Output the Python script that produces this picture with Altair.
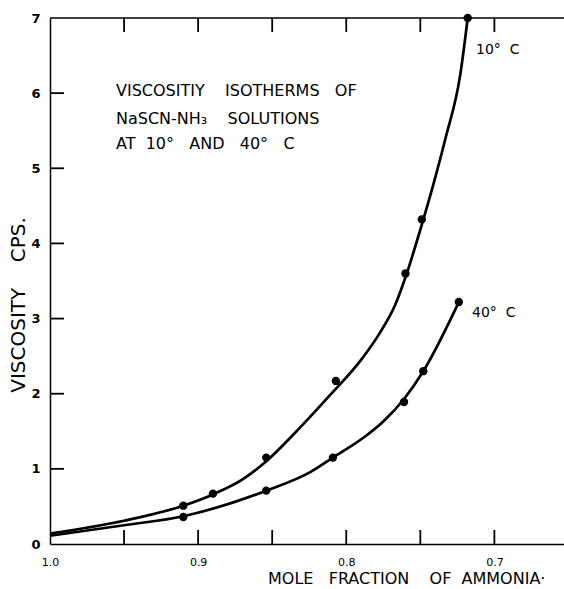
import altair as alt
import pandas as pd

# measured data points
x10_pts = [0.910, 0.890, 0.854, 0.807, 0.760, 0.749, 0.718]
y10_pts = [0.51, 0.67, 1.15, 2.17, 3.60, 4.32, 7.00]
x40_pts = [0.910, 0.854, 0.809, 0.761, 0.748, 0.724]
y40_pts = [0.36, 0.71, 1.15, 1.89, 2.30, 3.22]

# smooth curves as drawn in the figure
x10_curve = [1.00, 0.95, 0.91, 0.89, 0.87, 0.854, 0.836, 0.811, 0.790, 0.777, 0.767, 0.760, 0.749, 0.741, 0.733, 0.723, 0.718]
y10_curve = [0.14, 0.31, 0.51, 0.66, 0.86, 1.10, 1.45, 1.98, 2.45, 2.82, 3.18, 3.55, 4.25, 4.80, 5.40, 6.25, 7.00]
x40_curve = [1.00, 0.95, 0.91, 0.854, 0.824, 0.809, 0.788, 0.775, 0.761, 0.748, 0.724]
y40_curve = [0.11, 0.25, 0.37, 0.71, 0.96, 1.15, 1.42, 1.63, 1.93, 2.30, 3.22]

x_label_vals = [1.0, 0.9, 0.8, 0.7]
y_label_vals = [0, 1, 2, 3, 4, 5, 6, 7]
x_tick_vals = [0.95, 0.9, 0.85, 0.8, 0.75, 0.7]
y_tick_vals = [1, 2, 3, 4, 5, 6]
x_min, x_max = 1.0, 0.653
y_min, y_max = 0, 7

NB = "\u00a0"
note_lines = ["VISCOSITIY" + NB * 4 + "ISOTHERMS" + NB * 3 + "OF",
              "NaSCN-NH\u2083" + NB * 4 + "SOLUTIONS",
              "AT" + NB * 2 + "10\u00b0" + NB * 3 + "AND" + NB * 3 + "40\u00b0" + NB * 3 + "C"]
series_labels = ["10\u00b0" + NB * 2 + "C", "40\u00b0" + NB * 2 + "C"]
y_title = "VISCOSITY" + NB * 4 + "CPS."
x_title = "MOLE" + NB * 3 + "FRACTION" + NB * 4 + "OF" + NB * 2 + "AMMONIA\u00b7"

W, H = 514, 526
FONT = "DejaVu Sans"
TICK_PX = 14

xs = alt.Scale(domain=[x_min, x_max], nice=False, zero=False)
ys = alt.Scale(domain=[y_min, y_max], nice=False, zero=True)
xaxis = alt.Axis(values=x_label_vals, format=".1f", ticks=False, grid=False, title=None,
                 domainColor="black", domainWidth=1.5, labelFont=FONT, labelFontSize=11,
                 labelColor="black", labelPadding=12, labelFlush=False)
yaxis = alt.Axis(values=y_label_vals, format="d", ticks=False, grid=False, title=None,
                 domainColor="black", domainWidth=1.5, labelFont=FONT, labelFontSize=13,
                 labelFontWeight="bold", labelColor="black", labelPadding=10)

# inward tick length expressed in data units of each scale
dx = TICK_PX * (x_min - x_max) / W
dy = TICK_PX * (y_max - y_min) / H

seg_rows = []
for v in y_tick_vals:
    seg_rows.append({"x": x_min, "x2": x_min - dx, "y": v, "y2": v})
for v in x_tick_vals:
    seg_rows.append({"x": v, "x2": v, "y": y_min, "y2": y_min + dy})
    seg_rows.append({"x": v, "x2": v, "y": y_max, "y2": y_max - dy})
segs = pd.DataFrame(seg_rows)

curves = pd.DataFrame({
    "x": x10_curve + x40_curve,
    "y": y10_curve + y40_curve,
    "s": ["c10"] * len(x10_curve) + ["c40"] * len(x40_curve),
})
pts = pd.DataFrame({
    "x": x10_pts + x40_pts,
    "y": y10_pts + y40_pts,
})

ticks = alt.Chart(segs).mark_rule(color="black", strokeWidth=1.8, opacity=1).encode(
    x=alt.X("x:Q", scale=xs, axis=xaxis),
    x2="x2:Q",
    y=alt.Y("y:Q", scale=ys, axis=yaxis),
    y2="y2:Q",
)
line = alt.Chart(curves).mark_line(interpolate="monotone", color="black", strokeWidth=2.7).encode(
    x=alt.X("x:Q", scale=xs, axis=xaxis),
    y=alt.Y("y:Q", scale=ys, axis=yaxis),
    detail="s:N",
)
dots = alt.Chart(pts).mark_circle(size=70, color="black", opacity=1).encode(
    x=alt.X("x:Q", scale=xs, axis=xaxis), y=alt.Y("y:Q", scale=ys, axis=yaxis))

topline = alt.Chart(pd.DataFrame({"a": [0]})).mark_rule(color="black", strokeWidth=1.5).encode(
    x=alt.value(0), x2=alt.value(W), y=alt.value(0))

notes = alt.Chart(pd.DataFrame({"t": note_lines, "yy": [73, 101, 126]})).mark_text(
    font=FONT, fontSize=16, align="left", baseline="middle", color="black").encode(
    text="t:N", x=alt.value(66), y=alt.Y("yy:Q", scale=None, axis=None))

slab = alt.Chart(pd.DataFrame({"t": series_labels, "xx": [426, 422], "yy": [32, 295]})).mark_text(
    font=FONT, fontSize=14, align="left", baseline="middle", color="black").encode(
    text="t:N", x=alt.X("xx:Q", scale=None, axis=None), y=alt.Y("yy:Q", scale=None, axis=None))

ytitle = alt.Chart(pd.DataFrame({"t": [y_title]})).mark_text(
    font=FONT, fontSize=20, angle=270, align="center", baseline="middle", color="black").encode(
    text="t:N", x=alt.value(-31), y=alt.value(287))

xtitle = alt.Chart(pd.DataFrame({"t": [x_title]})).mark_text(
    font=FONT, fontSize=16, align="left", baseline="middle", color="black").encode(
    text="t:N", x=alt.value(218), y=alt.value(561))

chart = alt.layer(ticks, line, dots, topline, notes, slab, ytitle, xtitle).properties(
    width=W, height=H,
    autosize=alt.AutoSizeParams(type="none"),
    padding={"left": 50, "top": 18, "right": 0, "bottom": 45},
    background="white",
).configure_view(stroke=None)

chart.save("out.html", embed_options={"renderer": "svg", "actions": False})
